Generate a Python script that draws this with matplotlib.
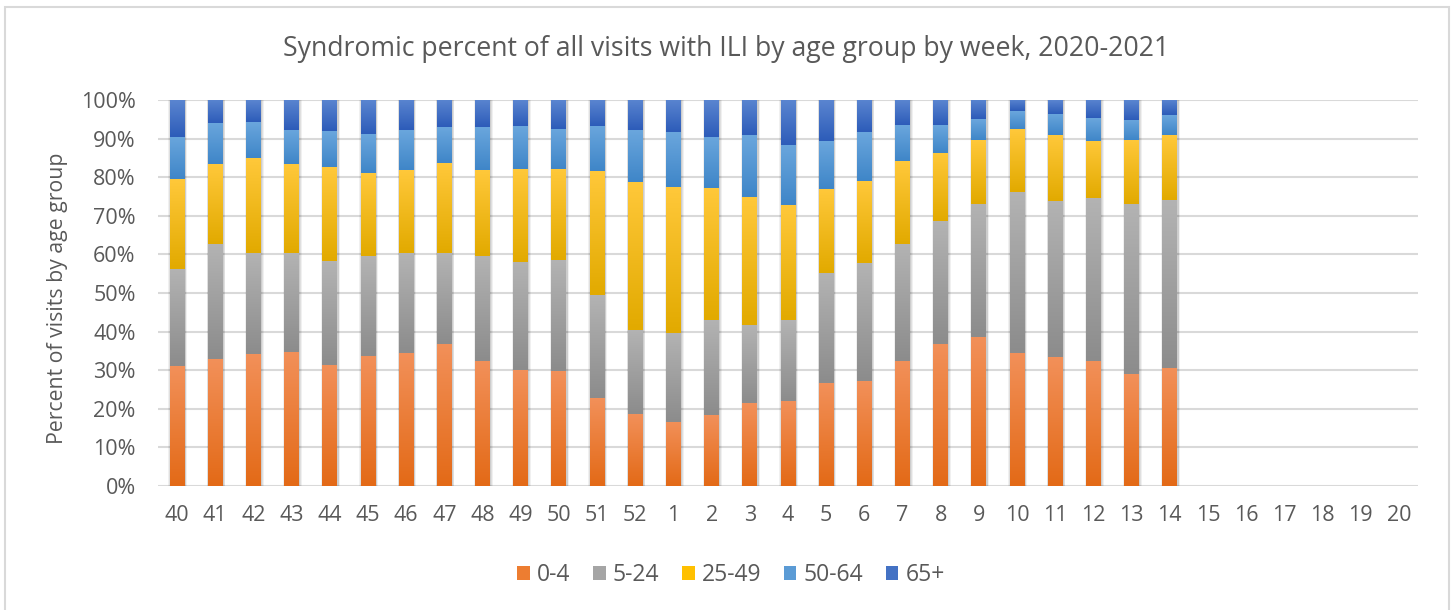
import numpy as np
import matplotlib
matplotlib.use("Agg")
import matplotlib.pyplot as plt
from matplotlib.colors import LinearSegmentedColormap
from matplotlib.patches import Rectangle

plt.rcParams['font.family'] = ['Open Sans', 'DejaVu Sans']

weeks = ['40', '41', '42', '43', '44', '45', '46', '47', '48', '49', '50', '51', '52',
         '1', '2', '3', '4', '5', '6', '7', '8', '9', '10', '11', '12', '13', '14',
         '15', '16', '17', '18', '19', '20']

# percent of visits per age group, weeks 40..14 (no data yet for 15..20)
age_0_4 = [31.0, 32.8, 34.1, 34.8, 31.4, 33.8, 34.5, 36.9, 32.4, 30.0, 29.7, 22.8, 18.6,
           16.6, 18.3, 21.4, 22.1, 26.6, 27.2, 32.4, 36.9, 38.6, 34.5, 33.4, 32.4, 29.0, 30.7]
age_5_24 = [25.3, 30.0, 26.3, 25.6, 26.9, 25.9, 25.9, 23.5, 27.3, 28.0, 28.9, 26.6, 21.8,
            23.1, 24.8, 20.3, 21.0, 28.7, 30.5, 30.4, 31.8, 34.5, 41.8, 40.5, 42.2, 44.1, 43.5]
age_25_49 = [23.3, 20.5, 24.6, 22.9, 24.3, 21.5, 21.5, 23.2, 22.2, 24.2, 23.6, 32.2, 38.4,
             37.7, 34.0, 33.3, 29.7, 21.7, 21.4, 21.5, 17.7, 16.6, 16.3, 17.0, 14.9, 16.6, 16.7]
age_50_64 = [10.9, 10.7, 9.3, 8.9, 9.3, 10.0, 10.3, 9.3, 11.0, 11.1, 10.4, 11.7, 13.4,
             14.2, 13.4, 15.9, 15.6, 12.5, 12.5, 9.3, 7.2, 5.3, 4.5, 5.5, 5.8, 5.2, 5.1]
age_65 = [9.5, 6.0, 5.7, 7.8, 8.1, 8.8, 7.8, 7.1, 7.1, 6.7, 7.4, 6.7, 7.8,
          8.4, 9.5, 9.1, 11.6, 10.5, 8.4, 6.4, 6.4, 5.0, 2.9, 3.6, 4.7, 5.0, 4.0]

series = [
    ('0-4', age_0_4, '#ED7D31', '#F29059', '#E36A17'),
    ('5-24', age_5_24, '#A5A5A5', '#B3B3B3', '#8C8C8C'),
    ('25-49', age_25_49, '#FFC000', '#FFC83A', '#E2AA00'),
    ('50-64', age_50_64, '#5B9BD5', '#6AA6DD', '#3F86C8'),
    ('65+', age_65, '#4472C4', '#5A85D0', '#2D5CB9'),
]

text_color = '#595959'
grid_color = '#D9D9D9'

fig = plt.figure(figsize=(14.53, 6.1), dpi=100)
ax = fig.add_axes([0.1087, 0.2033, 0.8672, 0.6327])

x = np.arange(len(age_0_4))
width = 0.39
grad = np.linspace(0, 1, 64).reshape(-1, 1)

# soft shadow behind each stacked bar
totals = np.sum([s[1] for s in series], axis=0)
for k, a in [(0.10, 0.06), (0.06, 0.07), (0.03, 0.08)]:
    ax.bar(x + 0.02, totals, width=width + k, color='black', alpha=a,
           linewidth=0, zorder=1.5)

bottom = np.zeros(len(x))
handles = []
for name, vals, base, top, low in series:
    bars = ax.bar(x, vals, width=width, bottom=bottom, color=base,
                  linewidth=0, zorder=2, label=name)
    cmap = LinearSegmentedColormap.from_list(name, [low, top])
    for b in bars:
        x0, y0 = b.get_x(), b.get_y()
        im = ax.imshow(grad, cmap=cmap, origin='lower', aspect='auto',
                       extent=(x0, x0 + b.get_width(), y0, y0 + b.get_height()),
                       zorder=3, interpolation='bilinear')
        im.set_clip_path(b)
    handles.append(Rectangle((0, 0), 1, 1, facecolor=base, edgecolor='none'))
    bottom += np.array(vals)

ax.set_xlim(-0.5, len(weeks) - 0.5)
ax.set_ylim(0, 100)
ax.set_xticks(np.arange(len(weeks)))
ax.set_xticklabels(weeks)
ax.set_yticks(np.arange(0, 101, 10))
ax.set_yticklabels([f'{v}%' for v in range(0, 101, 10)])
ax.tick_params(axis='both', length=0, labelsize=15.5, colors=text_color)
ax.tick_params(axis='y', pad=16)
ax.tick_params(axis='x', pad=14)
ax.yaxis.grid(True, color=grid_color, linewidth=1.5)
ax.set_axisbelow(True)
for sp in ax.spines.values():
    sp.set_visible(False)
ax.axhline(0, color=grid_color, linewidth=1.8, zorder=1)

fig.text(0.5, 1 - 49 / 610, 'Syndromic percent of all visits with ILI by age group by week, 2020-2021',
         ha='center', va='center', fontsize=19.2, color=text_color)
fig.text(58 / 1453, 1 - 298 / 610, 'Percent of visits by age group', rotation=90,
         ha='center', va='center', fontsize=15.3, color=text_color)

fig.legend(handles, [s[0] for s in series], loc='center',
           bbox_to_anchor=(731 / 1453, 1 - 575 / 610), ncol=5, frameon=False,
           fontsize=16.5, labelcolor=text_color, handlelength=0.55, handleheight=0.55,
           handletextpad=0.3, columnspacing=1.0)

# outer chart frame
fig.patches.append(Rectangle((5 / 1453, -0.01), 1444 / 1453, 1 - 7 / 610 + 0.01,
                             transform=fig.transFigure, fill=False,
                             edgecolor='#D9D9D9', linewidth=1.5))

fig.savefig('out.png', dpi=100)
